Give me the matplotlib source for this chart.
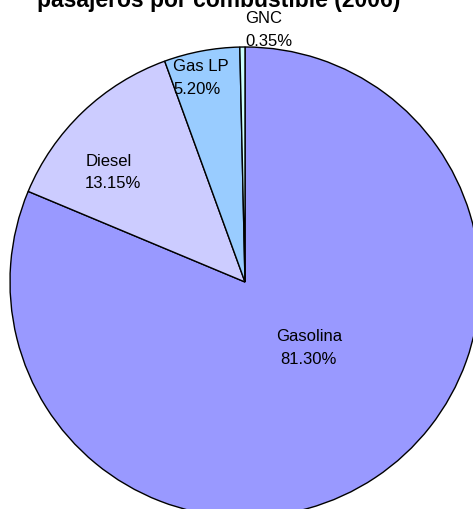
import matplotlib
matplotlib.use("Agg")
import matplotlib.pyplot as plt

plt.rcParams['font.family'] = ['Liberation Sans', 'DejaVu Sans']

# Data
fuels = ['Gasolina', 'Diesel', 'Gas LP', 'GNC']
shares = [81.30, 13.15, 5.20, 0.35]
colors = ['#9999FF', '#CCCCFF', '#99CCFF', '#CCFFFF']

# label block centres, in pie-radius units from the pie centre
label_xy = [(0.272, -0.277), (-0.560, 0.470), (-0.186, 0.872), (0.102, 1.077)]
label_align = ['center', 'left', 'left', 'left']

fig = plt.figure(figsize=(4.73, 5.10), dpi=100)
ax = fig.add_axes([0, 0, 1, 1])

ax.pie(shares, colors=colors, startangle=90, counterclock=False,
       wedgeprops={'edgecolor': 'black', 'linewidth': 1.0})

for name, val, (lx, ly), al in zip(fuels, shares, label_xy, label_align):
    ax.text(lx, ly, f"{name}\n{val:.2f}%", ha='center', va='center',
            multialignment=al, fontsize=12, linespacing=1.6)

# pie centre at pixel (245, 283), radius 235 px
ax.set_xlim(-245 / 235, (473 - 245) / 235)
ax.set_ylim(-(510 - 283) / 235, 283 / 235)
ax.set_aspect('auto')
ax.axis('off')

fig.text(219 / 473, 1 - 7 / 510, "pasajeros por combustible (2006)",
         ha='center', va='baseline', fontsize=16.5, fontweight='bold')

fig.savefig('out.png', dpi=100)
